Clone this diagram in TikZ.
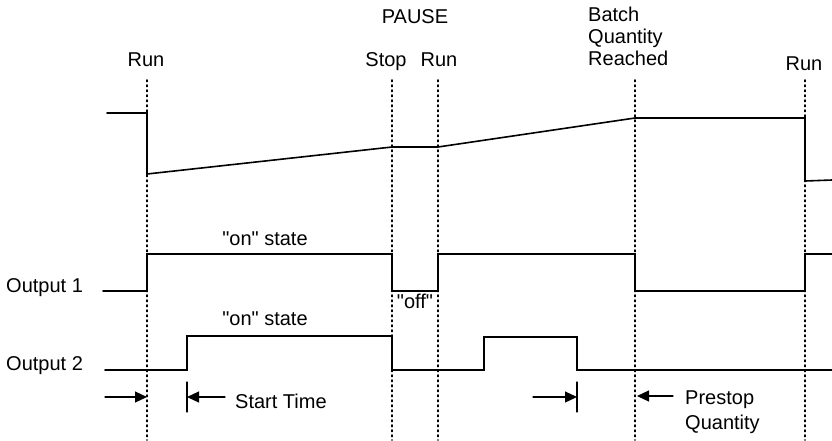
\documentclass[tikz,border=0pt]{standalone}
\usepackage{fontspec}
\setmainfont{Liberation Sans}[Ligatures=TeXOff]
\usepackage{tikz}
\usetikzlibrary{calc, arrows.meta}
\usepackage{tkz-euclide}

\begin{document}
\begin{tikzpicture}[x=1pt, y=-1pt, line join=miter,
        lbl/.style={font=\fontsize{20}{22}\selectfont, inner sep=0pt},
        wave/.style={black, line width=1.6pt},
        mark line/.style={black, line width=1.6pt, dash pattern=on 1.6pt off 3.4pt},
        span arrow/.style={black, line width=1.2pt, -{Triangle[length=12pt, width=11pt]}}]
                \useasboundingbox (0,0) rectangle (832,440);
                % timing marks
                \tkzDefPoints{147/80/D_1, 392/80/D_2, 438/80/D_3, 635/80/D_4, 805/80/D_5}
                \tkzDefPoints{147/440/E_1, 392/440/E_2, 438/440/E_3, 635/440/E_4, 805/440/E_5}
                \tkzDrawSegments[mark line](D_1,E_1 D_2,E_2 D_3,E_3 D_4,E_4 D_5,E_5)
                % quantity curve
                \tkzDefPoints{107/113/V_0, 147/113/V_1, 147/174/V_2, 392/147/V_3, 438/147/V_4,
                              635/118/V_5, 805/118/V_6, 805/181/V_7, 832/180/V_8}
                \tkzDrawPolySeg[wave](V_0,V_1,V_2,V_3,V_4,V_5,V_6,V_7,V_8)
                % output 1
                \tkzDefPoints{103/291/A_0, 147/291/A_1, 147/254/A_2, 392/254/A_3, 392/291/A_4,
                              438/291/A_5, 438/254/A_6, 635/254/A_7, 635/291/A_8, 805/291/A_9,
                              805/254/A_10, 832/254/A_11}
                \tkzDrawPolySeg[wave](A_0,A_1,A_2,A_3,A_4,A_5,A_6,A_7,A_8,A_9,A_10,A_11)
                % output 2
                \tkzDefPoints{105/370/B_0, 187/370/B_1, 187/336/B_2, 392/336/B_3, 392/370/B_4,
                              484/370/B_5, 484/337/B_6, 577/337/B_7, 577/370/B_8, 832/370/B_9}
                \tkzDrawPolySeg[wave](B_0,B_1,B_2,B_3,B_4,B_5,B_6,B_7,B_8,B_9)
                % time spans
                \tkzDefPoints{105/397/S_1, 147/397/S_2, 225/397/S_3, 187/397/S_4,
                              533/397/S_5, 577/397/S_6, 673/396/S_7, 637/396/S_8}
                \tkzDefPoints{187/382/K_1, 187/412/K_2, 577/382/K_3, 577/412/K_4}
                \tkzDrawSegments[span arrow](S_1,S_2 S_3,S_4 S_5,S_6 S_7,S_8)
                \tkzDrawSegments[black, line width=1.2pt](K_1,K_2 K_3,K_4)
                % labels
                \node[lbl, anchor=base] (run1) at (146,66) {Run};
                \node[lbl, anchor=base] (stop) at (386,66) {Stop};
                \node[lbl, anchor=base] (run2) at (439,66) {Run};
                \node[lbl, anchor=base] (pause) at (415,23) {PAUSE};
                \node[lbl, anchor=base west, align=left] (batch) at (588,65) {Batch\\Quantity\\Reached};
                \node[lbl, anchor=base] (run3) at (804,70) {Run};
                \node[lbl, anchor=base] (on1) at (265,245) {"on" state};
                \node[lbl, anchor=base] (on2) at (265,325) {"on" state};
                \node[lbl, anchor=base] (off) at (415,308) {"off"};
                \node[lbl, anchor=base west] (out1) at (6,292) {Output 1};
                \node[lbl, anchor=base west] (out2) at (6,370) {Output 2};
                \node[lbl, anchor=base west] (start) at (235,408) {Start Time};
                \node[lbl, font=\fontsize{20}{25}\selectfont, anchor=base west, align=left] (prestop) at (685,429) {Prestop\\Quantity};
            \end{tikzpicture}
\end{document}
